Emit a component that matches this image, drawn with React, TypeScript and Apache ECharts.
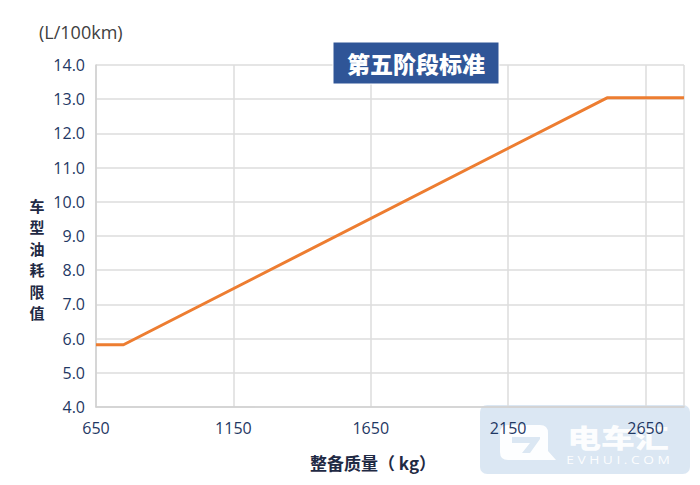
import React, { useEffect, useRef } from "react";
import * as echarts from "echarts";

const massPoints = [650, 750, 2510, 2790];
const limitValues = [5.82, 5.82, 13.04, 13.04];
const yTicks = [4, 5, 6, 7, 8, 9, 10, 11, 12, 13, 14];
const xTicks = [650, 1150, 1650, 2150, 2650];
const yAxisTitleChars = ["车", "型", "油", "耗", "限", "值"];

echarts.graphic.registerShape(
  "evLogo",
  echarts.graphic.extendPath(
    "M8 0 H40 Q48 0 48 8 V26 L56 35 H8 Q0 35 0 27 V8 Q0 0 8 0 Z M12 12 V18 H30 L22 28 H30 L40 14 V12 Z",
    {}
  )
);

export default function App() {
  const ref = useRef<HTMLDivElement>(null);
  useEffect(() => {
    const chart = echarts.init(ref.current!, null, { renderer: "svg" });
    const font = "'Open Sans', 'Noto Sans', sans-serif";
    const cjk = "'Noto Sans CJK SC', sans-serif";
    chart.setOption({
      animation: false,
      grid: { left: 96, right: 16, top: 65, bottom: 78 },
      xAxis: {
        type: "value",
        min: xTicks[0],
        max: 2790,
        interval: 500,
        axisLine: { show: true, lineStyle: { color: "#d0d0d0", width: 1.5 } },
        axisTick: { show: false },
        splitLine: { show: true, lineStyle: { color: "#dcdcdc", width: 1.5 } },
        axisLabel: {
          showMaxLabel: false,
          color: "#1f3864",
          fontSize: 16,
          fontFamily: font,
          margin: 13,
          formatter: (v: number) => String(v),
        },
      },
      yAxis: {
        type: "value",
        min: yTicks[0],
        max: yTicks[yTicks.length - 1],
        interval: 1,
        axisLine: { show: true, lineStyle: { color: "#d0d0d0", width: 1.5 } },
        axisTick: { show: false },
        splitLine: { show: true, lineStyle: { color: "#dcdcdc", width: 1.5 } },
        axisLabel: {
          color: "#1f3864",
          fontSize: 16,
          fontFamily: font,
          margin: 11,
          formatter: (v: number) => v.toFixed(1),
        },
      },
      series: [
        {
          type: "line",
          data: massPoints.map((m, i) => [m, limitValues[i]]),
          symbol: "none",
          lineStyle: { color: "#ed7d31", width: 3 },
          z: 3,
        },
      ],
      graphic: [
        {
          type: "rect",
          shape: { x: 333, y: 42, width: 166, height: 42 },
          style: { fill: "#2f5597", stroke: "#ffffff", lineWidth: 1 },
          z: 10,
        },
        {
          type: "text",
          x: 416,
          y: 63,
          style: {
            text: "第五阶段标准",
            fill: "#ffffff",
            font: `900 23px ${cjk}`,
            align: "center",
            verticalAlign: "middle",
          },
          z: 11,
        },
        {
          type: "text",
          x: 39,
          y: 32,
          style: {
            text: "(L/100km)",
            fill: "#404040",
            font: `18px ${font}`,
            align: "left",
            verticalAlign: "middle",
          },
        },
        ...yAxisTitleChars.map((ch, i) => ({
          type: "text",
          x: 37,
          y: 205 + i * 21.5,
          style: {
            text: ch,
            fill: "#1f2a44",
            font: `bold 15px ${cjk}`,
            lineHeight: 15,
            align: "center",
            verticalAlign: "middle",
          },
        })),
        {
          type: "text",
          x: 373,
          y: 462,
          style: {
            text: "整备质量（ kg）",
            fill: "#1f2a44",
            font: `bold 17px ${cjk}`,
            align: "center",
            verticalAlign: "middle",
          },
        },
        {
          type: "rect",
          shape: { x: 480, y: 405, width: 210, height: 69, r: 7 },
          style: { fill: "rgba(190, 212, 234, 0.55)" },
          z: -1,
        },
        {
          type: "evLogo",
          x: 500,
          y: 425,
          style: { fill: "rgba(255,255,255,0.95)" },
          z: -1,
        },
        {
          type: "text",
          x: 618,
          y: 437,
          scaleX: 1.3,
          originX: 0,
          originY: 0,
          style: {
            text: "电车汇",
            fill: "rgba(255,255,255,0.95)",
            font: `900 26px ${cjk}`,
            lineHeight: 26,
            align: "center",
            verticalAlign: "middle",
          },
          z: -1,
        },
        {
          type: "text",
          x: 618,
          y: 460,
          scaleX: 1.25,
          originX: 0,
          originY: 0,
          style: {
            text: "E V H U I . C O M",
            fill: "rgba(255,255,255,0.95)",
            font: `11px ${font}`,
            lineHeight: 11,
            align: "center",
            verticalAlign: "middle",
          },
          z: -1,
        },
      ],
    });
    return () => chart.dispose();
  }, []);
  return (
    <div
      ref={ref}
      style={{ position: "fixed", left: 0, top: 0, width: 700, height: 485, background: "#ffffff" }}
    />
  );
}
